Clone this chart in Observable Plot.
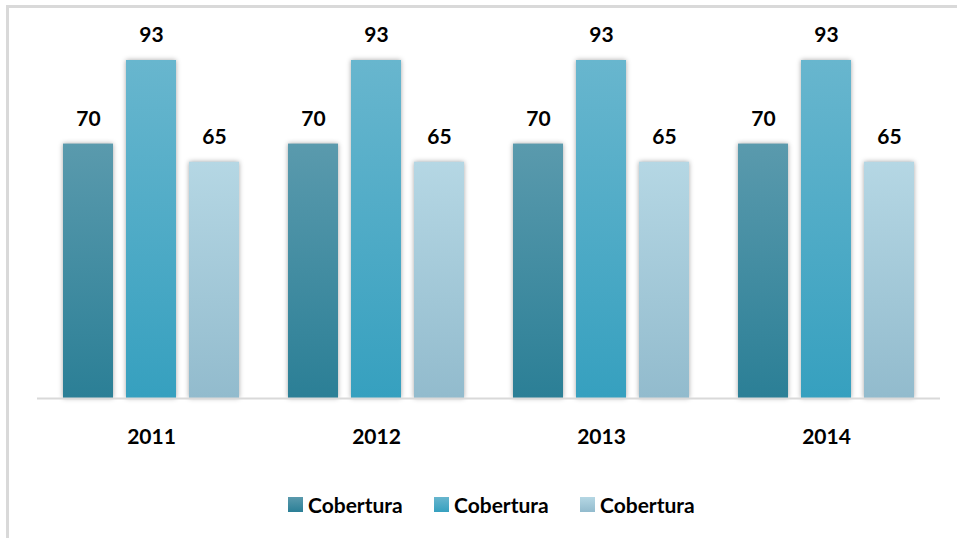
<!DOCTYPE html>
<html>
<head>
<meta charset="utf-8">
<script src="https://cdn.jsdelivr.net/npm/d3@7"></script>
<script src="https://cdn.jsdelivr.net/npm/@observablehq/plot@0.6"></script>
<style>
  html, body { margin: 0; padding: 0; background: #fff; }
  #wrap { position: relative; width: 957px; height: 538px; overflow: hidden; font-family: Lato, "Open Sans", sans-serif; }
  #border { position: absolute; left: 6px; top: 5px; width: 1000px; height: 600px; border-left: 3px solid #d9d9d9; border-top: 3px solid #d9d9d9; box-sizing: border-box; }
  #chart { position: absolute; left: 0; top: 0; }
  #chart g.bars rect { filter: drop-shadow(0 0 2.5px rgba(0,0,0,0.35)); }
  #legend { position: absolute; top: 492px; left: 0; width: 957px; height: 24px; }
  .item { position: absolute; top: 0; display: flex; align-items: center; height: 24px; font-weight: bold; font-size: 21px; color: #000; }
  .sw { width: 15px; height: 15px; margin-right: 5px; }
</style>
</head>
<body>
<div id="wrap">
  <div id="border"></div>
  <div id="chart"></div>
  <div id="legend"></div>
</div>
<script>
const years = ["2011", "2012", "2013", "2014"];
const seriesNames = ["Cobertura", "Cobertura", "Cobertura"];
const serie1 = [70, 70, 70, 70];
const serie2 = [93, 93, 93, 93];
const serie3 = [65, 65, 65, 65];

const seriesValues = [serie1, serie2, serie3];
const gradStops = [
  ["#5a9aad", "#2b7f96"],
  ["#68b6ce", "#36a0bf"],
  ["#b5d7e4", "#92bbcd"]
];
const barW = 51, pitch = 63, band = 177;

const rows = seriesValues.map((vals, s) => years.map((y, i) => ({year: y, value: vals[i], s})));

function defsMark() {
  const defs = d3.create("svg:defs");
  gradStops.forEach((st, i) => {
    const g = defs.append("linearGradient").attr("id", "grad" + i)
      .attr("x1", 0).attr("y1", 0).attr("x2", 0).attr("y2", 1);
    g.append("stop").attr("offset", "0%").attr("stop-color", st[0]);
    g.append("stop").attr("offset", "100%").attr("stop-color", st[1]);
  });
  return defs.node();
}

const marks = [defsMark];
rows.forEach((data, s) => {
  marks.push(Plot.barY(data, {
    x: "year", y: "value",
    fill: `url(#grad${s})`,
    insetLeft: s * pitch,
    insetRight: band - barW - s * pitch,
    className: "bars"
  }));
  marks.push(Plot.text(data, {
    x: "year", y: "value", text: d => String(d.value),
    dx: (s - 1) * pitch, dy: -25,
    fontSize: 21, fontWeight: "bold", fill: "#000",
    fontFamily: "Lato, 'Open Sans', sans-serif"
  }));
});
marks.push(Plot.ruleY([0], {stroke: "#d9d9d9", strokeWidth: 2}));
marks.push(Plot.axisX({anchor: "bottom", tickSize: 0, tickPadding: 31, fontSize: 21, fontWeight: "bold", color: "#000", fontFamily: "Lato, 'Open Sans', sans-serif"}));

const chart = Plot.plot({
  width: 957,
  height: 470,
  marginLeft: 37,
  marginRight: 17,
  marginTop: 60,
  marginBottom: 72,
  style: {background: "transparent", fontFamily: "Lato, 'Open Sans', sans-serif", overflow: "visible"},
  x: {domain: years, paddingInner: 0.217, paddingOuter: 0.1085, label: null, axis: null},
  y: {domain: [0, 93], axis: null},
  marks
});
document.getElementById("chart").appendChild(chart);

const legend = document.getElementById("legend");
const legendX = [288, 434, 580];
seriesNames.forEach((name, i) => {
  const it = document.createElement("div");
  it.className = "item";
  it.style.left = legendX[i] + "px";
  const sw = document.createElement("div");
  sw.className = "sw";
  sw.style.background = `linear-gradient(${gradStops[i][0]}, ${gradStops[i][1]})`;
  it.appendChild(sw);
  const t = document.createElement("span");
  t.textContent = name;
  it.appendChild(t);
  legend.appendChild(it);
});
</script>
</body>
</html>
